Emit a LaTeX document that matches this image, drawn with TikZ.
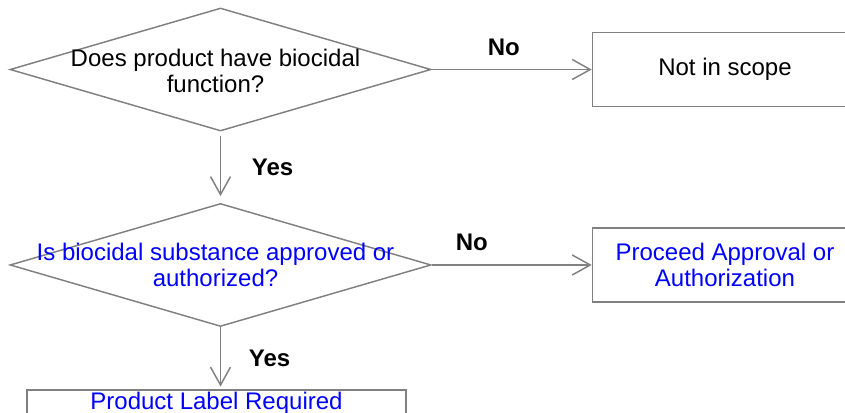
\documentclass[tikz,border=0pt]{standalone}
\usepackage{fontspec}
\setmainfont{Liberation Sans}
\usetikzlibrary{shapes.geometric, positioning, arrows.meta}

\definecolor{linegray}{RGB}{128,128,128}
\definecolor{textblue}{RGB}{0,0,255}

\begin{document}
\begin{tikzpicture}[
    x=0.75pt, y=-0.75pt,
    >={Straight Barb[length=13.5pt, width=15pt]},
    decision/.style={diamond, draw=linegray, line width=1.1pt, minimum width=315.75pt, minimum height=92.25pt, inner sep=0pt},
    outcome/.style={rectangle, draw=linegray, line width=1.1pt, minimum width=198.75pt, minimum height=55.5pt, align=center, font=\fontsize{18}{19.5}\selectfont},
    qtext/.style={align=center, inner sep=0pt, font=\fontsize{18}{19.5}\selectfont},
    answer/.style={inner sep=0pt, font=\fontsize{18}{19.5}\selectfont\bfseries},
    every edge/.style={draw=linegray, line width=1.1pt, ->}
]
    \useasboundingbox (0,0) rectangle (845,412);
    \clip (0,0) rectangle (845,412);

    % --- DECISIONS ---
    \node[decision] (q1) at (220.5,69.5) {};
    \node[qtext, xshift=-3.75pt, yshift=-1.3pt] (q1txt) at (q1) {Does product have biocidal\\function?};

    \node[decision, below=53.25pt of q1] (q2) {};
    \node[qtext, text=textblue, xshift=-3.75pt] (q2txt) at (q2) {Is biocidal substance approved or\\authorized?};

    % --- OUTCOMES ---
    \node[outcome, right=120pt of q1] (noscope) {Not in scope};
    \node[outcome, text=textblue, right=120pt of q2] (approval) {Proceed Approval or\\Authorization};
    \node[outcome, text=textblue, minimum width=284.25pt, minimum height=20.25pt, inner ysep=0pt, below=46.5pt of q2, xshift=-3pt] (prodlabel) {Product Label Required};

    % --- ANSWERS ---
    \path[->]
        (q1) edge node[answer, pos=0.45, yshift=16.5pt] {No} (noscope)
        (q2) edge node[answer, pos=0.25, yshift=17.25pt] {No} (approval);

    \path[->]
        (q1) edge[shorten <=3pt, shorten >=5pt] node[answer, midway, xshift=39pt] {Yes} (q2)
        (q2.south) edge[shorten >=2pt] node[answer, midway, xshift=36.75pt] {Yes} (q2.south |- prodlabel.north);

\end{tikzpicture}
\end{document}
